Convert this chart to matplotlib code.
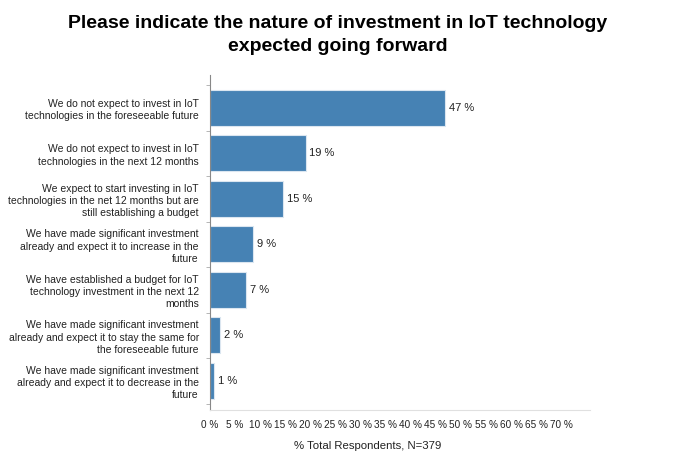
import numpy as np
import matplotlib
matplotlib.use("Agg")
import matplotlib.pyplot as plt

plt.rcParams['font.family'] = ['Liberation Sans', 'DejaVu Sans']

categories = [
    "We do not expect to invest in IoT\ntechnologies in the foreseeable future",
    "We do not expect to invest in IoT\ntechnologies in the next 12 months",
    "We expect to start investing in IoT\ntechnologies in the net 12 months but are\nstill establishing a budget",
    "We have made significant investment\nalready and expect it to increase in the\nfuture",
    "We have established a budget for IoT\ntechnology investment in the next 12\nmonths",
    "We have made significant investment\nalready and expect it to stay the same for\nthe foreseeable future",
    "We have made significant investment\nalready and expect it to decrease in the\nfuture",
]
values = [46.9, 19.1, 14.6, 8.6, 7.2, 2.0, 0.8]
xticks = list(range(0, 75, 5))

fig = plt.figure(figsize=(6.75, 4.61), dpi=100)
ax = fig.add_axes([210/675, 51/461, 380/675, 335/461])

y = np.arange(len(values))
ax.barh(y, values, height=0.79, color="#4682B4", edgecolor="#dbe6f0", linewidth=0.8)
for yi, v in zip(y, values):
    ax.text(v + 0.7, yi, f"{round(v)} %", va="center", ha="left", fontsize=8, color="#222222")

ax.set_ylim(len(values) - 1 + 0.64, -0.72)
ax.set_xlim(0, 75.7)
ax.set_yticks(y)
ax.set_yticklabels(categories, fontsize=7.5, color="#222222", linespacing=1.3)
ax.set_yticks(np.arange(len(values) + 1) - 0.5, minor=True)
ax.tick_params(axis="y", which="major", length=0, pad=8)
ax.tick_params(axis="y", which="minor", length=3, color="#aaaaaa", width=0.6)
ax.set_xticks(xticks)
ax.set_xticklabels([f"{t} %" for t in xticks], fontsize=7.2, color="#222222")
ax.tick_params(axis="x", length=0, pad=7)

for s in ["top", "right"]:
    ax.spines[s].set_visible(False)
ax.spines["left"].set_color("#888888")
ax.spines["left"].set_linewidth(0.8)
ax.spines["bottom"].set_color("#e0e0e0")
ax.spines["bottom"].set_linewidth(0.8)

fig.text(368/675, 1 - 446/461, "% Total Respondents, N=379", ha="center", va="center", fontsize=8.2, color="#222222")
fig.text(0.5, 1 - 35/461, "Please indicate the nature of investment in IoT technology\nexpected going forward",
         ha="center", va="center", fontsize=14, fontweight="bold", linespacing=1.5)

fig.savefig("out.png", dpi=100)
